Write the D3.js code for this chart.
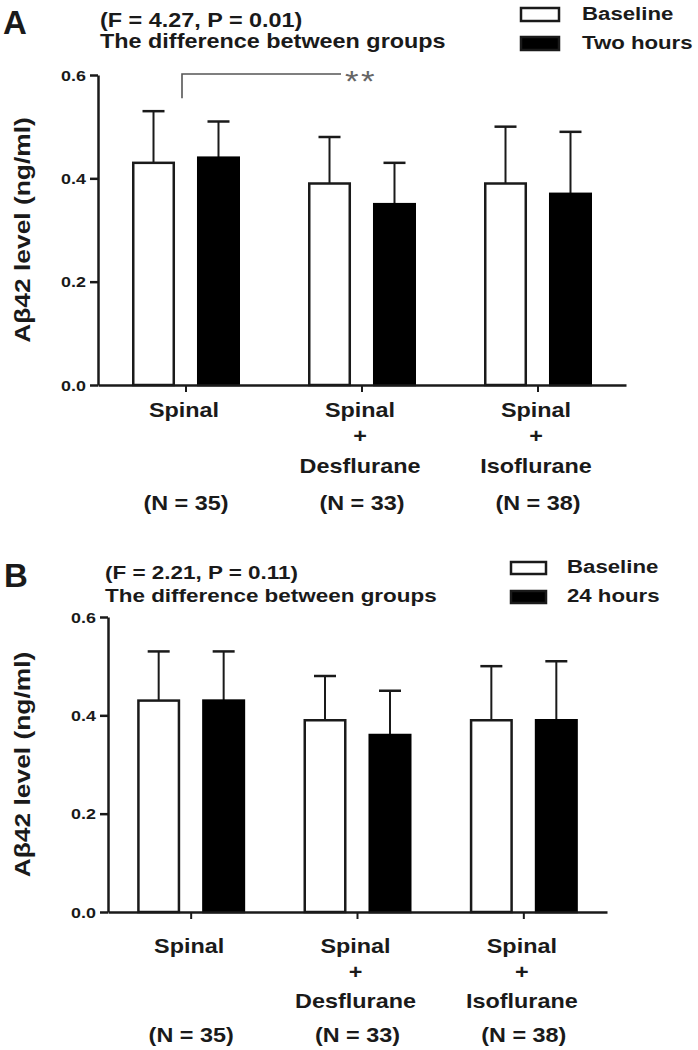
<!DOCTYPE html>
<html><head><meta charset="utf-8">
<script src="https://cdn.jsdelivr.net/npm/d3@7"></script>
<style>body{margin:0;background:#fff} svg{display:block}</style>
</head><body>
<svg id="chart" width="698" height="1050"></svg>
<script>
// ---------- data ----------
const categories = ["Spinal", "Spinal + Desflurane", "Spinal + Isoflurane"];
const categoryLines = [["Spinal"], ["Spinal", "+", "Desflurane"], ["Spinal", "+", "Isoflurane"]];
const groupN = ["(N = 35)", "(N = 33)", "(N = 38)"];
const yTicks = [0, 0.2, 0.4, 0.6];
const yTickLabels = ["0.0", "0.2", "0.4", "0.6"];

const seriesA = ["Baseline", "Two hours"];
const baselineA = [0.43, 0.39, 0.39];
const baselineA_sd = [0.10, 0.09, 0.11];
const twoHours = [0.44, 0.35, 0.37];
const twoHours_sd = [0.07, 0.08, 0.12];
const statsA = ["(F = 4.27, P = 0.01)", "The difference between groups"];

const seriesB = ["Baseline", "24 hours"];
const baselineB = [0.43, 0.39, 0.39];
const baselineB_sd = [0.10, 0.09, 0.11];
const hours24 = [0.43, 0.36, 0.39];
const hours24_sd = [0.10, 0.09, 0.12];
const statsB = ["(F = 2.21, P = 0.11)", "The difference between groups"];

const yLabel = "A\u03b242 level (ng/ml)";

// ---------- drawing ----------
const svg = d3.select("#chart");
const FONT = "'Liberation Sans', Arial, Helvetica, sans-serif";
const INK = "#1a1a1a";
const SX = 1.17;

function stext(parent, x, y, str, o = {}) {
  const sx = o.sx || SX;
  const rot = o.rotate ? ` rotate(${o.rotate})` : "";
  return parent.append("text")
    .attr("transform", `translate(${x},${y})${rot} scale(${sx},1)`)
    .attr("font-family", FONT)
    .attr("font-size", o.size || 20)
    .attr("font-weight", o.weight || "bold")
    .attr("fill", o.fill || INK)
    .attr("text-anchor", o.anchor || "start")
    .attr("letter-spacing", o.ls || null)
    .text(str);
}

function drawPanel(cfg) {
  const g = svg.append("g");
  const x0 = d3.scaleBand().domain(categories).range(cfg.xRange).padding(0);
  const x1 = d3.scaleBand().domain(cfg.series).range([-54, 54]).paddingInner(0.338).paddingOuter(0);
  const y = d3.scaleLinear().domain([0, 0.6]).range(cfg.yRange);
  const center = c => x0(c) + x0.bandwidth() / 2;

  // bars
  cfg.series.forEach((s, si) => {
    const vals = cfg.values[si], sds = cfg.sds[si];
    categories.forEach((c, ci) => {
      const bx = center(c) + x1(s);
      const bw = x1.bandwidth();
      const cx = bx + bw / 2;
      g.append("line").attr("x1", cx).attr("x2", cx)
        .attr("y1", y(vals[ci])).attr("y2", y(vals[ci] + sds[ci]))
        .attr("stroke", INK).attr("stroke-width", 2);
      g.append("line").attr("x1", cx - 11).attr("x2", cx + 11)
        .attr("y1", y(vals[ci] + sds[ci])).attr("y2", y(vals[ci] + sds[ci]))
        .attr("stroke", INK).attr("stroke-width", 2.5);
      g.append("rect")
        .attr("x", bx + 1.25).attr("width", bw - 2.5)
        .attr("y", y(vals[ci])).attr("height", y(0) - y(vals[ci]))
        .attr("fill", si === 0 ? "#fff" : "#000")
        .attr("stroke", si === 0 ? INK : "#000").attr("stroke-width", 2.5);
    });
  });

  // y axis
  const ya = g.append("g").attr("transform", `translate(${cfg.xRange[0]},0)`)
    .call(d3.axisLeft(y).tickValues(yTicks).tickSize(8).tickSizeOuter(0)
      .tickFormat((d, i) => yTickLabels[i]));
  ya.select(".domain").attr("stroke", INK).attr("stroke-width", 2.5);
  ya.selectAll(".tick line").attr("stroke", INK).attr("stroke-width", 2.5);
  ya.selectAll(".tick text")
    .attr("font-family", FONT).attr("font-size", 14).attr("font-weight", "bold")
    .attr("fill", INK).attr("x", -12 / 1.28).attr("dy", "0.36em")
    .attr("transform", "scale(1.28,1)");

  // x axis
  const xa = g.append("g").attr("transform", `translate(0,${cfg.yRange[0]})`)
    .call(d3.axisBottom(x0).tickSize(7).tickSizeOuter(0).tickFormat(""));
  xa.select(".domain").attr("stroke", INK).attr("stroke-width", 2.5);
  xa.selectAll(".tick line").attr("stroke", INK).attr("stroke-width", 2);

  // category labels
  categories.forEach((c, ci) => {
    const cx = center(c) - 2;
    categoryLines[ci].forEach((ln, li) => {
      stext(g, cx, cfg.labelY[li], ln, { anchor: "middle" });
    });
    stext(g, cx + 2, cfg.nY, groupN[ci], { anchor: "middle" });
  });

  // y label
  stext(g, cfg.yLabelX, (cfg.yRange[0] + cfg.yRange[1]) / 2, yLabel,
    { anchor: "middle", rotate: -90, size: 22, sx: 1.2 });

  // panel letter
  stext(g, cfg.letterPos[0], cfg.letterPos[1], cfg.letter, { size: 33, sx: 1.0 });

  // stats text
  cfg.stats.forEach((t, i) => stext(g, cfg.statsX, cfg.statsY[i], t, { size: cfg.statsSize }));

  // legend
  cfg.series.forEach((s, si) => {
    g.append("rect")
      .attr("x", cfg.legX).attr("y", cfg.legY[si] - cfg.legH)
      .attr("width", cfg.legW).attr("height", cfg.legH)
      .attr("fill", si === 0 ? "#fff" : "#000")
      .attr("stroke", INK).attr("stroke-width", 2.5);
    stext(g, cfg.legTextX, cfg.legY[si] - 1, s, { size: 19 });
  });

  return { g, x0, x1, y, center };
}

const pA = drawPanel({
  letter: "A", letterPos: [3, 34],
  series: seriesA, values: [baselineA, twoHours], sds: [baselineA_sd, twoHours_sd],
  xRange: [98, 626], yRange: [385, 75],
  labelY: [417, 443, 473], nY: 510, yLabelX: 30,
  stats: statsA, statsX: 100, statsY: [27, 48], statsSize: 20,
  legX: 521, legW: 38, legH: 13, legY: [21, 50], legTextX: 582
});

drawPanel({
  letter: "B", letterPos: [4, 587],
  series: seriesB, values: [baselineB, hours24], sds: [baselineB_sd, hours24_sd],
  xRange: [108, 607], yRange: [912, 617],
  labelY: [953, 979, 1008], nY: 1042, yLabelX: 30,
  stats: statsB, statsX: 105, statsY: [579, 602], statsSize: 19.2,
  legX: 511, legW: 35, legH: 12, legY: [574, 603], legTextX: 567
});

// significance bracket in panel A (Spinal vs Spinal + Desflurane)
{
  const xs = pA.center(categories[0]) - 4;
  const xe = pA.center(categories[1]) - 21;
  const yb = pA.y(0.6) - 1;
  pA.g.append("path")
    .attr("d", `M${xs},${pA.y(0.555)}V${yb}H${xe}`)
    .attr("fill", "none").attr("stroke", "#555").attr("stroke-width", 1.6);
  stext(pA.g, xe + 4, yb + 17, "**", { size: 29, weight: "normal", fill: "#666", sx: 1.2, ls: 2 });
}
</script>
</body></html>
